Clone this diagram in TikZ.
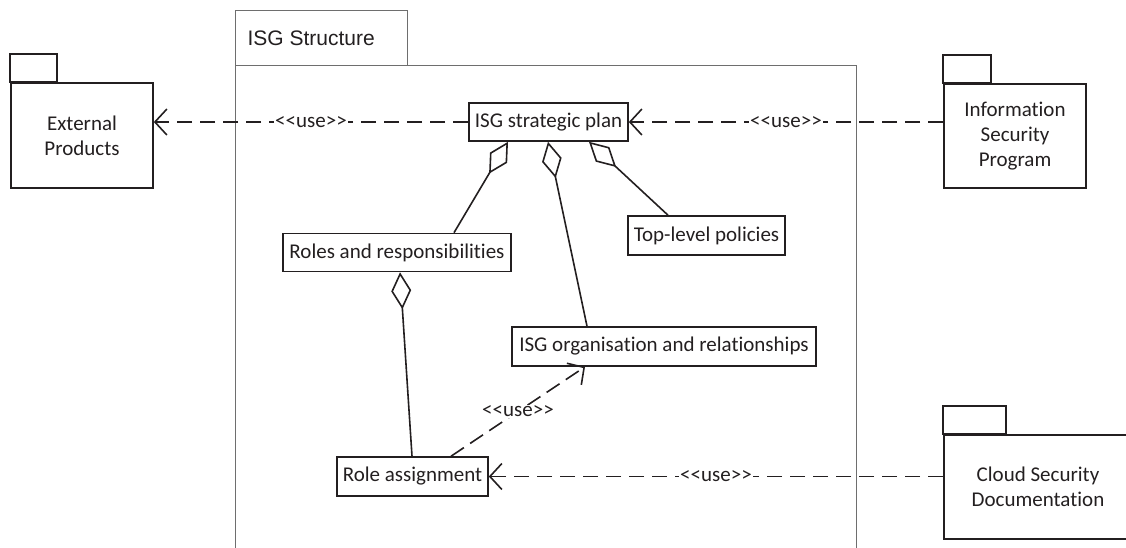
\documentclass[tikz,border=0pt]{standalone}
\usepackage{fontspec}
\setmainfont{Carlito}[Ligatures={TeX,NoCommon}]
\newfontfamily\framefont{Liberation Sans}
\usetikzlibrary{arrows.meta}
\definecolor{ink}{HTML}{231F20}
\definecolor{framegray}{HTML}{6E6E6E}
% stereotype label, kerns keep << and >> from turning into guillemets
\newcommand\uselabel{<\kern0pt<use>\kern0pt>}

\begin{document}
\begin{tikzpicture}[x=1pt,y=-1pt,
  txt/.style={font=\fontsize{21}{25}\selectfont, text=ink},
  classbox/.style={txt, draw=ink, line width=1.6pt, inner sep=0pt, align=center},
  pkgbody/.style={txt, draw=ink, line width=1.6pt, inner sep=0pt, align=center},
  pkgtab/.style={draw=ink, line width=1.6pt},
  frameline/.style={draw=framegray, line width=1pt},
  usedep/.style={draw=ink, line width=1.6pt, dash pattern=on 15.5pt off 7.5pt,
    -{Straight Barb[length=12pt, width=26pt, line width=1.6pt]}},
  uselbl/.style={txt, fill=white, inner sep=1pt},
  aggr/.style={draw=ink, line width=1.6pt,
    {Diamond[open, length=37pt, width=20pt, line width=1.6pt]}-}
]
\useasboundingbox (0,0) rectangle (1126,547);
\begin{scope}
\clip (0,0) rectangle (1126,547);

% ISG Structure package frame
\path[frameline] (235,65) -- (235,10) -- (407,10) -- (407,65);
\path[frameline] (235,548) -- (235,65) -- (856,65) -- (856,548);
\node[txt, font=\framefont\fontsize{21}{25}\selectfont, anchor=west] (frametitle) at (244,38) {ISG Structure};

% elements inside the frame
\node[classbox, minimum width=159pt, minimum height=38pt] (plan) at (548.5,122) {ISG strategic plan};
\node[classbox, minimum width=157pt, minimum height=39pt] (top) at (706.5,235.5) {Top-level policies};
\node[classbox, minimum width=228pt, minimum height=38pt] (roles) at (397,252.5) {Roles and responsibilities};
\node[classbox, minimum width=304pt, minimum height=39pt] (org) at (664,346.5) {ISG organisation and relationships};
\node[classbox, minimum width=151pt, minimum height=39pt] (assign) at (412.5,476.5) {Role assignment};

% outer packages
\node[pkgbody, minimum width=142pt, minimum height=105pt] (ext) at (82,135.5) {External\\Products};
\draw[pkgtab] (ext.north west) rectangle ++(47,-28);
\node[pkgbody, minimum width=142pt, minimum height=104pt] (info) at (1015,136) {Information\\Security\\Program};
\draw[pkgtab] (info.north west) rectangle ++(48,-28);
\node[pkgbody, minimum width=188pt, minimum height=104pt] (cloud) at (1038,487) {Cloud Security\\Documentation};
\draw[pkgtab] (cloud.north west) rectangle ++(63,-28);

% aggregations
\draw[aggr] ([xshift=-40.5pt]plan.south) -- ([xshift=57pt]roles.north);
\draw[aggr] ([xshift=-0.5pt]plan.south) -- ([xshift=-77pt]org.north);
\draw[aggr] ([xshift=40.5pt]plan.south) -- ([xshift=-38.5pt]top.north);
\draw[aggr] ([xshift=3pt]roles.south) -- ([xshift=-0.5pt]assign.north);

% usage dependencies
\draw[usedep] (plan.west) -- node[uselbl, pos=0.5] {\uselabel} (plan.west -| ext.east);
\draw[usedep] (plan.east -| info.west) -- node[uselbl, pos=0.5] {\uselabel} (plan.east);
\draw[usedep] (assign.east -| cloud.west) -- node[uselbl, pos=0.5] {\uselabel} (assign.east);
\draw[usedep] ([xshift=38.5pt]assign.north) -- node[uselbl, pos=0.5] {\uselabel} ([xshift=-79pt]org.south);
\end{scope}
\end{tikzpicture}
\end{document}
